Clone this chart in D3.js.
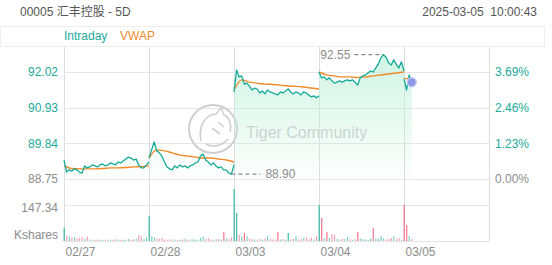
<!DOCTYPE html>
<html>
<head>
<meta charset="utf-8">
<script src="https://cdn.jsdelivr.net/npm/d3@7"></script>
<style>
  body { margin: 0; background: #fff; }
  svg { display: block; font-family: "Liberation Sans", Arial, "Noto Sans CJK SC", sans-serif; }
  .axis path, .axis line { display: none; }
</style>
</head>
<body>
<div id="chart"></div>
<script>
// ---- data ----
const title = "00005 汇丰控股 - 5D";
const stamp = "2025-03-05  10:00:43";
const dayLabels = ["02/27", "02/28", "03/03", "03/04", "03/05"];
const prevClose = 88.75;
const priceTicks = [88.75, 89.84, 90.93, 92.02];
const pctTicks = ["0.00%", "1.23%", "2.46%", "3.69%"];
const volTicks = [147.34];
const minutesPerDay = 330;   // 09:30-12:00 + 13:00-16:00
const priceStep = 10;        // minutes between price / volume points
const vwapStep = 30;         // minutes between vwap points

const day1Price = [89.33, 88.96, 89.03, 88.99, 89.06, 89.03, 88.96, 88.93, 89.15, 89.09, 89.12, 89.18, 89.15, 89.12, 89.18, 89.21, 89.15, 89.18, 89.24, 89.21, 89.18, 89.27, 89.24, 89.30, 89.36, 89.42, 89.39, 89.33, 89.36, 89.18, 89.09, 89.09, 89.18, 89.27];
const day2Price = [89.39, 89.64, 89.88, 89.61, 89.55, 89.45, 89.27, 89.12, 89.06, 89.03, 89.15, 89.09, 89.18, 89.12, 89.15, 89.09, 89.15, 89.18, 89.24, 89.27, 89.45, 89.51, 89.33, 89.27, 89.18, 89.24, 89.15, 89.09, 89.12, 89.03, 89.03, 88.93, 88.90, 89.18];
const day3Price = [91.41, 92.08, 91.87, 91.90, 91.65, 91.68, 91.59, 91.47, 91.53, 91.50, 91.38, 91.44, 91.35, 91.47, 91.41, 91.38, 91.35, 91.32, 91.41, 91.38, 91.44, 91.50, 91.41, 91.35, 91.41, 91.38, 91.32, 91.41, 91.38, 91.32, 91.26, 91.29, 91.23, 91.29];
const day4Price = [92.02, 91.84, 91.87, 91.78, 91.84, 91.75, 91.68, 91.71, 91.75, 91.71, 91.75, 91.78, 91.75, 91.78, 91.71, 91.62, 91.84, 91.90, 91.93, 91.99, 92.05, 92.02, 92.14, 92.26, 92.45, 92.55, 92.48, 92.30, 92.23, 92.39, 92.26, 92.14, 92.33, 92.05];
const day5Price = [91.81, 91.47, 91.93, 91.71];

const day1Vwap = [89.15, 89.07, 89.06, 89.06, 89.06, 89.07, 89.09, 89.09, 89.10, 89.12, 89.13, 89.15];
const day2Vwap = [89.39, 89.64, 89.61, 89.55, 89.48, 89.45, 89.42, 89.39, 89.39, 89.36, 89.33, 89.27];
const day3Vwap = [91.47, 91.78, 91.71, 91.68, 91.65, 91.64, 91.62, 91.59, 91.58, 91.56, 91.53, 91.50];
const day4Vwap = [92.02, 91.93, 91.90, 91.87, 91.87, 91.85, 91.87, 91.90, 91.93, 91.96, 91.99, 92.02];
const day5Vwap = [91.81, 91.84];

const day1Vol = [55, 22, 18, 14, 16, 10, 12, 15, 8, 18, 6, 5, 4, 6, 5, 4, 5, 3, 6, 5, 7, 6, 5, 6, 4, 8, 5, 6, 9, 25, 18, 8, 14];
const day2Vol = [102, 20, 14, 10, 8, 12, 6, 5, 7, 5, 6, 4, 5, 6, 8, 5, 6, 7, 5, 6, 14, 18, 8, 10, 6, 5, 7, 8, 6, 37, 10, 8, 15];
const day3Vol = [213, 115, 25, 18, 33, 20, 10, 8, 6, 5, 8, 6, 10, 20, 8, 6, 5, 37, 6, 8, 5, 33, 6, 10, 20, 6, 8, 12, 16, 8, 14, 6, 20];
const day4Vol = [147, 94, 12, 37, 12, 29, 25, 8, 6, 10, 8, 16, 6, 5, 8, 37, 10, 8, 6, 5, 12, 53, 10, 8, 20, 10, 6, 8, 12, 20, 8, 12, 6];
const day5Vol = [147, 65, 20, 8];

const prices = [day1Price, day2Price, day3Price, day4Price, day5Price];
const vwaps = [day1Vwap, day2Vwap, day3Vwap, day4Vwap, day5Vwap];
const vols = [day1Vol, day2Vol, day3Vol, day4Vol, day5Vol];

// ---- colours ----
const teal = "#14aa97", tealText = "#23a99b", orange = "#f28a2a", red = "#ee5675";
const gray = "#8c8c8c", grid = "#e6e6e6";

const width = 552, height = 265;
const left = 64, right = 489;

const svg = d3.select("#chart").append("svg")
  .attr("width", width)
  .attr("height", height);

const x = d3.scaleLinear().domain([0, minutesPerDay * 5]).range([left, right]);
const y = d3.scaleLinear().domain([priceTicks[0], priceTicks[3]]).range([179, 72]);
const yv = d3.scaleLinear().domain([0, volTicks[0]]).range([241, 205]);

// series with time in minutes from the first open
const priceSeries = prices.map((arr, d) => arr.map((p, i) => ({t: d * minutesPerDay + i * priceStep, p})));
const vwapSeries = vwaps.map((arr, d) => arr.map((p, i) => ({t: d * minutesPerDay + i * vwapStep, p})));
const volSeries = [];
vols.forEach((arr, d) => {
  arr.forEach((v, i) => {
    const prev = i > 0 ? prices[d][i - 1] : (d > 0 ? prices[d - 1][prices[d - 1].length - 1] : prevClose);
    volSeries.push({t: d * minutesPerDay + i * priceStep, v, up: prices[d][i] >= prev});
  });
});

// ---- header ----
svg.append("text").attr("x", 20).attr("y", 16)
  .attr("font-size", 12).attr("fill", "#555").text(title);
svg.append("text").attr("x", 537).attr("y", 16)
  .attr("text-anchor", "end").style("white-space", "pre")
  .attr("font-size", 12).attr("fill", "#555").text(stamp);

// legend box
svg.append("rect").attr("x", 0.5).attr("y", 26.5).attr("width", 544).attr("height", 20)
  .attr("fill", "#fff").attr("stroke", "#eeeeee");
svg.append("text").attr("x", left).attr("y", 40).attr("font-size", 12).attr("fill", tealText).text("Intraday");
svg.append("text").attr("x", 120).attr("y", 40).attr("font-size", 12).attr("fill", orange).text("VWAP");

// ---- grid ----
const g = svg.append("g");
g.selectAll(".vgrid")
  .data(dayLabels.map((d, i) => i * minutesPerDay).concat([minutesPerDay * 5]))
  .enter().append("line")
  .attr("x1", d => Math.round(x(d)) + 0.5).attr("x2", d => Math.round(x(d)) + 0.5)
  .attr("y1", 47).attr("y2", 241)
  .attr("stroke", "#dddddd");

g.selectAll(".hgrid")
  .data(priceTicks)
  .enter().append("line")
  .attr("x1", left).attr("x2", right)
  .attr("y1", d => Math.round(y(d)) + 0.5).attr("y2", d => Math.round(y(d)) + 0.5)
  .attr("stroke", grid);

g.selectAll(".vline")
  .data([0].concat(volTicks))
  .enter().append("line")
  .attr("x1", left).attr("x2", right)
  .attr("y1", d => Math.round(yv(d)) + 0.5).attr("y2", d => Math.round(yv(d)) + 0.5)
  .attr("stroke", grid);

// ---- watermark ----
const wm = svg.append("g").attr("fill", "none").attr("stroke", "#cfcfcf").attr("stroke-width", 2);
wm.append("circle").attr("cx", 213).attr("cy", 129).attr("r", 24);
wm.append("path").attr("stroke-width", 1.6)
  .attr("d", "M201,141 C198,126 205,115 216,114 L221,108 L224,115 C230,118 232,125 230,132 M206,144 C213,148 222,146 228,139 M212,128 L220,134 M218,122 L224,127");
svg.append("text").attr("x", 246).attr("y", 138)
  .attr("font-size", 16).attr("fill", "#cccccc").text("Tiger Community");

// ---- price area + lines ----
const grad = svg.append("defs").append("linearGradient")
  .attr("id", "fillGrad").attr("gradientUnits", "userSpaceOnUse")
  .attr("x1", 0).attr("x2", 0).attr("y1", y(92.55)).attr("y2", y(priceTicks[0]));
grad.append("stop").attr("offset", 0).attr("stop-color", "#bdf0d8").attr("stop-opacity", 0.7);
grad.append("stop").attr("offset", 0.75).attr("stop-color", "#bdf0d8").attr("stop-opacity", 0.2);
grad.append("stop").attr("offset", 1).attr("stop-color", "#bdf0d8").attr("stop-opacity", 0.03);

const area = d3.area().x(d => x(d.t)).y0(y(priceTicks[0])).y1(d => y(d.p));
const line = d3.line().x(d => x(d.t)).y(d => y(d.p));
const vwapLine = d3.line().x(d => x(d.t)).y(d => y(d.p)).curve(d3.curveMonotoneX);

svg.selectAll(".area").data(priceSeries).enter().append("path")
  .attr("d", area).attr("fill", "url(#fillGrad)");

svg.selectAll(".vwap").data(vwapSeries).enter().append("path")
  .attr("d", vwapLine).attr("fill", "none").attr("stroke", orange).attr("stroke-width", 1.4);

svg.selectAll(".price").data(priceSeries).enter().append("path")
  .attr("d", line).attr("fill", "none").attr("stroke", teal).attr("stroke-width", 1.3)
  .attr("stroke-linejoin", "round");

// ---- volume bars ----
svg.selectAll(".bar").data(volSeries).enter().append("rect")
  .attr("x", d => x(d.t) - 0.4)
  .attr("width", 1.1)
  .attr("y", d => yv(d.v))
  .attr("height", d => yv(0) - yv(d.v))
  .attr("fill", d => d.up ? teal : red)
  .attr("opacity", d => d.v > 30 ? 0.9 : 0.6);

// ---- high / low marks ----
const all = priceSeries.flat();
const hi = all.reduce((a, b) => b.p > a.p ? b : a);
const lo = all.reduce((a, b) => b.p < a.p ? b : a);
svg.append("line").attr("x1", x(hi.t) - 29).attr("x2", x(hi.t))
  .attr("y1", y(hi.p)).attr("y2", y(hi.p))
  .attr("stroke", gray).attr("stroke-width", 1.2).attr("stroke-dasharray", "4,3");
svg.append("text").attr("x", x(hi.t) - 33).attr("y", y(hi.p)).attr("dy", "0.35em")
  .attr("text-anchor", "end").attr("font-size", 12).attr("fill", gray).text(hi.p.toFixed(2));
svg.append("line").attr("x1", x(lo.t)).attr("x2", x(lo.t) + 29)
  .attr("y1", y(lo.p)).attr("y2", y(lo.p))
  .attr("stroke", gray).attr("stroke-width", 1.2).attr("stroke-dasharray", "4,3");
svg.append("text").attr("x", x(lo.t) + 34).attr("y", y(lo.p)).attr("dy", "0.35em")
  .attr("font-size", 12).attr("fill", gray).text(lo.p.toFixed(2));

// last price dot
const last = day5Price.length - 1;
svg.append("circle").attr("cx", x(4 * minutesPerDay + last * priceStep)).attr("cy", y(day5Price[last]))
  .attr("r", 4.5).attr("fill", "#8e98e6").attr("stroke", "#c3c8f2").attr("stroke-width", 1.5);

// ---- axes ----
const yAxis = svg.append("g").attr("class", "axis")
  .attr("transform", `translate(${left},0)`)
  .call(d3.axisLeft(y).tickValues(priceTicks).tickSize(0).tickPadding(6).tickFormat(d3.format(".2f")));
yAxis.selectAll("text").attr("font-size", 12).attr("font-family", null)
  .attr("fill", (d, i) => i === 0 ? gray : tealText);

const pAxis = svg.append("g").attr("class", "axis")
  .attr("transform", `translate(${right},0)`)
  .call(d3.axisRight(y).tickValues(priceTicks).tickSize(0).tickPadding(6).tickFormat((d, i) => pctTicks[i]));
pAxis.selectAll("text").attr("font-size", 12).attr("font-family", null)
  .attr("fill", (d, i) => i === 0 ? gray : tealText);

const vAxis = svg.append("g").attr("class", "axis")
  .attr("transform", `translate(${left},0)`)
  .call(d3.axisLeft(yv).tickValues(volTicks).tickSize(0).tickPadding(6).tickFormat(d3.format(".2f")));
vAxis.selectAll("text").attr("font-size", 12).attr("font-family", null).attr("fill", gray).attr("dy", "0.5em");
svg.append("text").attr("x", left - 6).attr("y", 239).attr("text-anchor", "end")
  .attr("font-size", 12).attr("fill", gray).text("Kshares");

const xAxis = svg.append("g").attr("class", "axis")
  .attr("transform", "translate(0,241)")
  .call(d3.axisBottom(x).tickValues(dayLabels.map((d, i) => i * minutesPerDay))
    .tickSize(0).tickPadding(6).tickFormat((d, i) => dayLabels[i]));
xAxis.selectAll("text").attr("font-size", 12).attr("font-family", null)
  .attr("fill", gray).attr("text-anchor", "start").attr("dx", 1);
</script>
</body>
</html>
